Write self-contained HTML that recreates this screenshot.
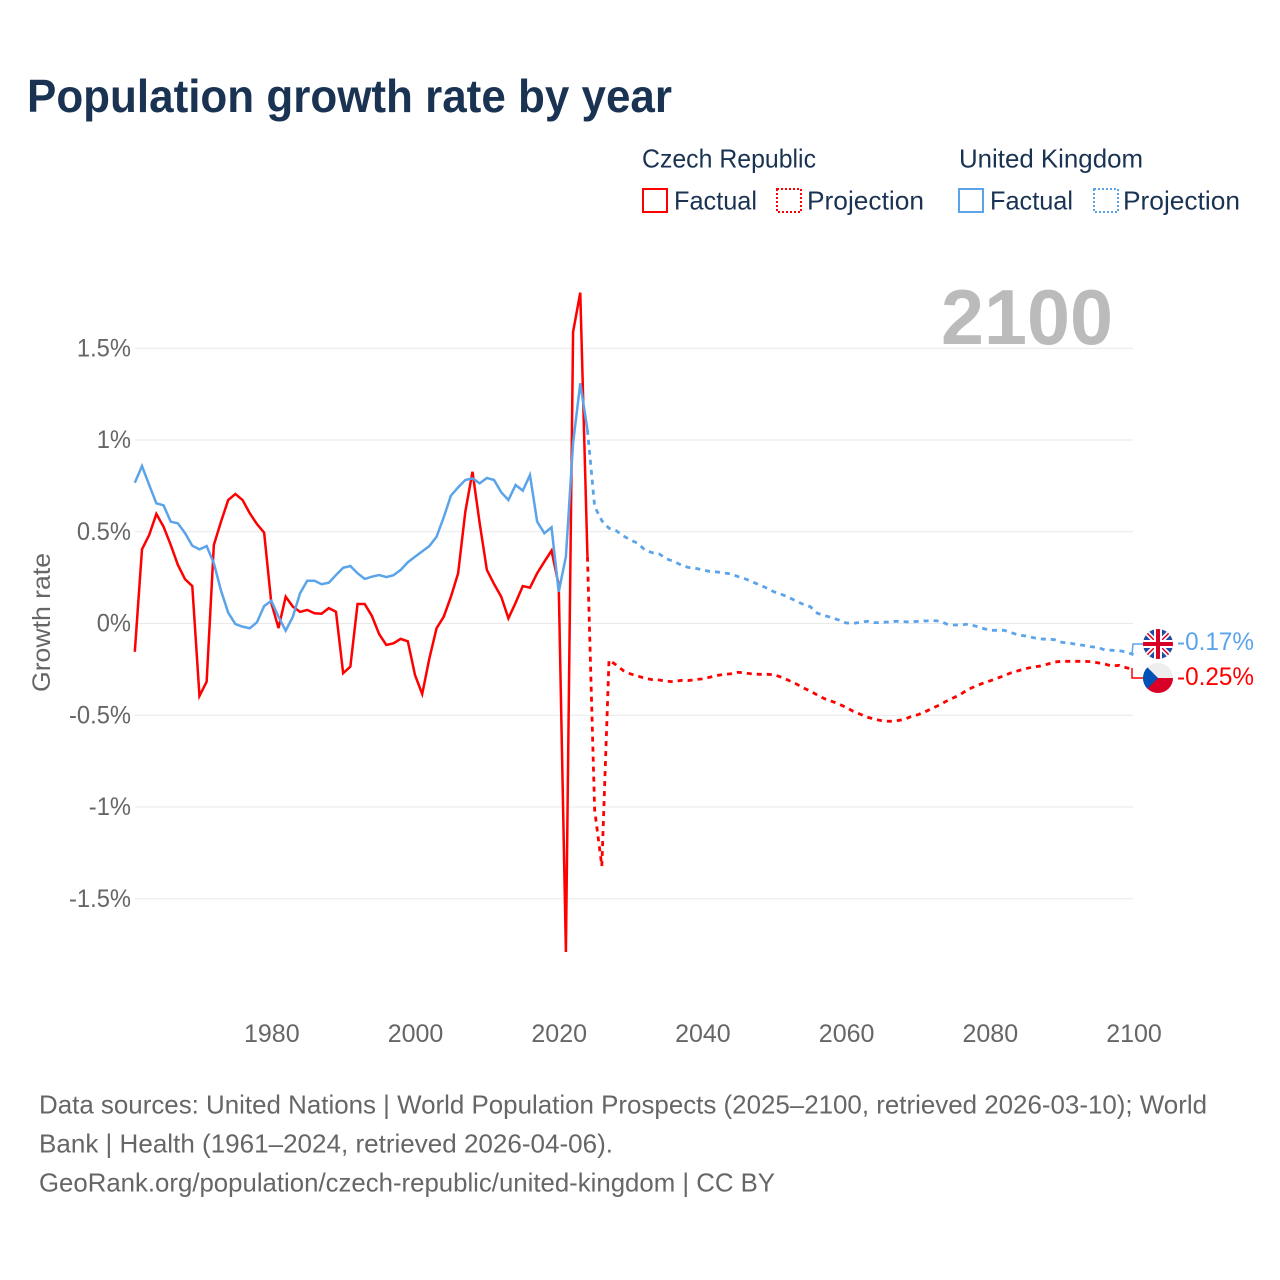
<!DOCTYPE html>
<html lang="en">
<head>
<meta charset="utf-8">
<title>Population growth rate by year</title>
<style>
html,body{margin:0;padding:0;background:#fff;}
svg{display:block;}
text{font-family:"Liberation Sans",sans-serif;}
</style>
</head>
<body>
<svg id="chart" xmlns="http://www.w3.org/2000/svg" width="1280" height="1280" viewBox="0 0 1280 1280">
  <rect width="1280" height="1280" fill="#ffffff"/>
  <defs>
    <clipPath id="clip-uk"><circle cx="1158" cy="644" r="15"/></clipPath>
    <clipPath id="clip-cz"><circle cx="1158" cy="678" r="15"/></clipPath>
  </defs>

  <text x="27" y="112" font-size="46" font-weight="700" fill="#1a3353" textLength="645" lengthAdjust="spacingAndGlyphs">Population growth rate by year</text>

  <g fill="#1a3353" font-size="26">
    <text x="642" y="167.5" textLength="174" lengthAdjust="spacingAndGlyphs">Czech Republic</text>
    <text x="959" y="167.5" textLength="184" lengthAdjust="spacingAndGlyphs">United Kingdom</text>
    <rect x="643" y="189" width="24" height="23" fill="none" stroke="#ff0000" stroke-width="2" shape-rendering="crispEdges"/>
    <text x="674" y="209.5" textLength="83" lengthAdjust="spacingAndGlyphs">Factual</text>
    <rect x="777" y="189" width="24" height="23" fill="none" stroke="#ff0000" stroke-width="2" stroke-dasharray="2 2" shape-rendering="crispEdges"/>
    <text x="807" y="209.5" textLength="117" lengthAdjust="spacingAndGlyphs">Projection</text>
    <rect x="959" y="189" width="24" height="23" fill="none" stroke="#5ba4ea" stroke-width="2" shape-rendering="crispEdges"/>
    <text x="990" y="209.5" textLength="83" lengthAdjust="spacingAndGlyphs">Factual</text>
    <rect x="1094" y="189" width="24" height="23" fill="none" stroke="#5ba4ea" stroke-width="2" stroke-dasharray="2 2" shape-rendering="crispEdges"/>
    <text x="1123" y="209.5" textLength="117" lengthAdjust="spacingAndGlyphs">Projection</text>
  </g>

  <g id="grid"></g>
  <g id="y-ticks"></g>
  <g id="x-ticks"></g>

  <text x="941" y="344" font-size="78" font-weight="700" fill="#bbbbbb" textLength="172" lengthAdjust="spacingAndGlyphs">2100</text>

  <text transform="translate(50,692) rotate(-90)" x="0" y="0" font-size="25" fill="#666666" textLength="139" lengthAdjust="spacingAndGlyphs">Growth rate</text>

  <g id="series"></g>

  <path d="M1132 654 L1133 644 L1143 644" fill="none" stroke="#5ba4ea" stroke-width="1.5"/>
  <path d="M1132 668 L1132 678 L1143 678" fill="none" stroke="#ff0000" stroke-width="1.5"/>

  <g clip-path="url(#clip-uk)">
    <rect x="1143" y="629" width="30" height="30" fill="#1f4ea1"/>
    <path d="M1143 629 L1173 659 M1173 629 L1143 659" stroke="#ffffff" stroke-width="5"/>
    <path d="M1143 629 L1173 659 M1173 629 L1143 659" stroke="#d80027" stroke-width="1.5"/>
    <path d="M1158 629 V659 M1143 644 H1173" stroke="#ffffff" stroke-width="8"/>
    <path d="M1158 629 V659 M1143 644 H1173" stroke="#d80027" stroke-width="4"/>
  </g>
  <g clip-path="url(#clip-cz)">
    <rect x="1143" y="663" width="30" height="15" fill="#eeeeee"/>
    <rect x="1143" y="678" width="30" height="15" fill="#d80027"/>
    <path d="M1143 663 L1158 678 L1143 693 Z" fill="#0052b4"/>
  </g>

  <text x="1177" y="650" font-size="25" fill="#5ba4ea" textLength="77" lengthAdjust="spacingAndGlyphs">-0.17%</text>
  <text x="1177" y="685" font-size="25" fill="#ff0000" textLength="77" lengthAdjust="spacingAndGlyphs">-0.25%</text>

  <g font-size="26" fill="#666666">
    <text x="39" y="1113.5" textLength="1168" lengthAdjust="spacingAndGlyphs">Data sources: United Nations | World Population Prospects (2025–2100, retrieved 2026-03-10); World</text>
    <text x="39" y="1152.5" textLength="574" lengthAdjust="spacingAndGlyphs">Bank | Health (1961–2024, retrieved 2026-04-06).</text>
    <text x="39" y="1191.5" textLength="736" lengthAdjust="spacingAndGlyphs">GeoRank.org/population/czech-republic/united-kingdom | CC BY</text>
  </g>
</svg>

<script>
var factualStartYear = 1961;
var projectionStartYear = 2024;
var yTickValues = [1.5, 1, 0.5, 0, -0.5, -1, -1.5];
var yTickLabels = ["1.5%", "1%", "0.5%", "0%", "-0.5%", "-1%", "-1.5%"];
var xTickYears = [1980, 2000, 2020, 2040, 2060, 2080, 2100];

var czechFactual = [
 -0.154,0.404,0.482,0.597,0.528,0.428,0.319,0.241,0.204,-0.395,
 -0.317,0.428,0.555,0.673,0.706,0.673,0.601,0.542,0.495,0.112,
 -0.025,0.146,0.092,0.063,0.074,0.056,0.053,0.084,0.064,-0.271,
 -0.235,0.106,0.106,0.041,-0.057,-0.117,-0.108,-0.084,-0.097,-0.281,
 -0.384,-0.190,-0.026,0.037,0.146,0.274,0.609,0.827,0.546,0.292,
 0.215,0.146,0.028,0.113,0.204,0.195,0.274,0.337,0.397,0.210,
 -1.790,1.589,1.803,0.364
];
var czechProjection = [
 0.364,-1.016,-1.322,-0.199,-0.226,-0.257,-0.275,-0.286,-0.299,-0.306,-0.308,
 -0.315,-0.317,-0.310,-0.311,-0.306,-0.302,-0.293,-0.284,-0.277,-0.274,
 -0.266,-0.270,-0.275,-0.277,-0.277,-0.279,-0.293,-0.310,-0.328,-0.350,
 -0.368,-0.390,-0.410,-0.424,-0.439,-0.457,-0.479,-0.495,-0.511,-0.522,
 -0.530,-0.533,-0.530,-0.524,-0.508,-0.497,-0.481,-0.462,-0.444,-0.422,
 -0.404,-0.384,-0.359,-0.342,-0.326,-0.313,-0.299,-0.284,-0.268,-0.257,
 -0.246,-0.237,-0.232,-0.222,-0.210,-0.206,-0.206,-0.206,-0.206,-0.208,
 -0.214,-0.221,-0.232,-0.228,-0.241,-0.250
];
var ukFactual = [
 0.767,0.858,0.755,0.655,0.644,0.555,0.546,0.492,0.424,0.404,
 0.422,0.328,0.179,0.059,-0.003,-0.017,-0.026,0.007,0.095,0.124,
 0.037,-0.039,0.037,0.165,0.233,0.233,0.214,0.222,0.264,0.304,
 0.313,0.274,0.243,0.255,0.264,0.253,0.263,0.292,0.334,0.364,
 0.393,0.422,0.473,0.579,0.697,0.742,0.782,0.791,0.764,0.793,
 0.782,0.715,0.673,0.755,0.724,0.809,0.555,0.492,0.524,0.173,
 0.364,0.984,1.309,1.055
];
var ukProjection = [
 1.055,0.637,0.560,0.519,0.506,0.477,0.455,0.437,0.401,0.386,0.379,
 0.352,0.339,0.319,0.306,0.301,0.292,0.284,0.281,0.275,0.270,
 0.255,0.243,0.226,0.210,0.192,0.172,0.159,0.143,0.123,0.105,
 0.092,0.056,0.043,0.032,0.019,0.003,0.001,0.007,0.012,0.004,
 0.007,0.008,0.012,0.010,0.008,0.012,0.014,0.015,0.014,-0.003,
 -0.008,-0.008,-0.003,-0.014,-0.026,-0.037,-0.037,-0.037,-0.050,-0.063,
 -0.068,-0.077,-0.084,-0.086,-0.088,-0.102,-0.106,-0.113,-0.119,-0.126,
 -0.130,-0.144,-0.146,-0.148,-0.155,-0.170
];

var NS = "http://www.w3.org/2000/svg";
function xScale(year) { return 134.8 + (year - 1961) * 7.185; }
function yScale(v) { return 623.5 - v * 183.5; }

function linePath(values, startYear) {
  var d = "";
  for (var i = 0; i < values.length; i++) {
    d += (i ? " L" : "M") + xScale(startYear + i).toFixed(2) + " " + yScale(values[i]).toFixed(2);
  }
  return d;
}

var gridG = document.getElementById("grid");
var yG = document.getElementById("y-ticks");
var xG = document.getElementById("x-ticks");
var seriesG = document.getElementById("series");

yTickValues.forEach(function (v, i) {
  var line = document.createElementNS(NS, "line");
  
  
  line.setAttribute("x1", 135);
  line.setAttribute("x2", 1133);
  line.setAttribute("y1", yScale(v));
  line.setAttribute("y2", yScale(v));
  line.setAttribute("stroke", "#e9e9e9");
  line.setAttribute("stroke-width", "1");
  gridG.appendChild(line);

  var t = document.createElementNS(NS, "text");
  
  
  t.setAttribute("x", 131);
  t.setAttribute("y", yScale(v) + 8);
  t.setAttribute("text-anchor", "end");
  t.setAttribute("font-size", "25");
  t.setAttribute("fill", "#666666");
  t.textContent = yTickLabels[i];
  yG.appendChild(t);
  var w = t.getComputedTextLength();
  t.setAttribute("textLength", (w * 0.95).toFixed(1));
  t.setAttribute("lengthAdjust", "spacingAndGlyphs");
});

xTickYears.forEach(function (yr) {
  var t = document.createElementNS(NS, "text");
  
  
  t.setAttribute("x", xScale(yr) + 0.5);
  t.setAttribute("y", 1042);
  t.setAttribute("text-anchor", "middle");
  t.setAttribute("font-size", "25");
  t.setAttribute("fill", "#666666");
  t.textContent = String(yr);
  xG.appendChild(t);
});

function addLine(values, startYear, color, dashed, name) {
  var p = document.createElementNS(NS, "path");
  
  
  p.setAttribute("d", linePath(values, startYear));
  p.setAttribute("fill", "none");
  p.setAttribute("stroke", color);
  p.setAttribute("stroke-width", dashed ? "2.8" : "2.5");
  p.setAttribute("stroke-linejoin", "miter");
  if (dashed) { p.setAttribute("stroke-dasharray", "5 5"); }
  seriesG.appendChild(p);
}
addLine(czechFactual, factualStartYear, "#ff0000", false, "czech-factual-line");
addLine(czechProjection, projectionStartYear, "#ff0000", true, "czech-projection-line");
addLine(ukFactual, factualStartYear, "#5ba4ea", false, "uk-factual-line");
addLine(ukProjection, projectionStartYear, "#5ba4ea", true, "uk-projection-line");
</script>
</body>
</html>
